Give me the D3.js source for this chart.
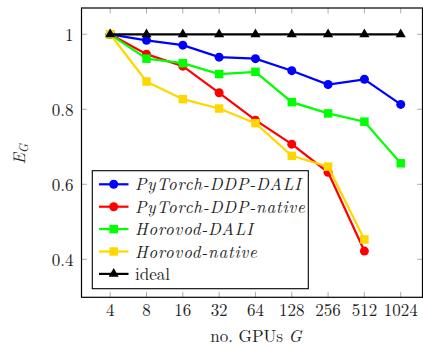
<!DOCTYPE html>
<html>
<head>
<meta charset="utf-8">
<script src="https://cdn.jsdelivr.net/npm/d3@7"></script>
<style>
  body { margin: 0; background: #fff; }
</style>
</head>
<body>
<svg id="chart" width="423" height="347"></svg>
<script>
const gpus = [4, 8, 16, 32, 64, 128, 256, 512, 1024]
const yTicks = [0.4, 0.6, 0.8, 1]

const ddpDali = [1, 0.984, 0.971, 0.939, 0.935, 0.903, 0.866, 0.880, 0.813]
const ddpNative = [1, 0.947, 0.915, 0.844, 0.771, 0.707, 0.632, 0.422]
const horovodDali = [1, 0.935, 0.923, 0.894, 0.900, 0.819, 0.789, 0.767, 0.656]
const horovodNative = [1, 0.874, 0.827, 0.802, 0.763, 0.676, 0.647, 0.453]
const ideal = [1, 1, 1, 1, 1, 1, 1, 1, 1]

const series = [
  { name: 'PyTorch-DDP-DALI', values: ddpDali, color: '#0000ff', marker: 'circle', italic: true },
  { name: 'PyTorch-DDP-native', values: ddpNative, color: '#ff0000', marker: 'circle', italic: true },
  { name: 'Horovod-DALI', values: horovodDali, color: '#00ff00', marker: 'square', italic: true },
  { name: 'Horovod-native', values: horovodNative, color: '#ffd700', marker: 'square', italic: true },
  { name: 'ideal', values: ideal, color: '#000000', marker: 'triangle', italic: false }
]

const box = { left: 81.5, right: 422.5, top: 8, bottom: 297.3 }
const fontSize = 17
const font = "'Latin Modern Roman', 'Liberation Serif', serif"

const svg = d3.select('#chart')

// log2 x scale, pixel positions taken from the axis frame
const x = d3.scaleLog().base(2)
  .domain([Math.pow(2, 1.21), Math.pow(2, 10.6)])
  .range([box.left, box.right])
const y = d3.scaleLinear()
  .domain([0.2987, 1.0701])
  .range([box.bottom, box.top])

// ticks (inward, mirrored)
const tickLen = 5.5
const ticks = svg.append('g').attr('stroke', '#999').attr('stroke-width', 0.8)
gpus.forEach(g => {
  ticks.append('line').attr('x1', x(g)).attr('x2', x(g)).attr('y1', box.bottom).attr('y2', box.bottom - tickLen)
  ticks.append('line').attr('x1', x(g)).attr('x2', x(g)).attr('y1', box.top).attr('y2', box.top + tickLen)
})
yTicks.forEach(v => {
  ticks.append('line').attr('x1', box.left).attr('x2', box.left + tickLen).attr('y1', y(v)).attr('y2', y(v))
  ticks.append('line').attr('x1', box.right).attr('x2', box.right - tickLen).attr('y1', y(v)).attr('y2', y(v))
})

// tick labels
svg.append('g').selectAll('text').data(gpus).enter().append('text')
  .attr('x', d => x(d)).attr('y', 316)
  .attr('text-anchor', 'middle').attr('font-family', font).attr('font-size', fontSize).attr('fill', '#222')
  .text(d => d)
svg.append('g').selectAll('text').data(yTicks).enter().append('text')
  .attr('x', box.left - 8).attr('y', d => y(d) + 6.5)
  .attr('text-anchor', 'end').attr('font-family', font).attr('font-size', fontSize).attr('fill', '#222')
  .text(d => d)

// axis labels
svg.append('text')
  .attr('x', 256).attr('y', 342)
  .attr('text-anchor', 'middle').attr('font-family', font).attr('font-size', fontSize).attr('fill', '#222')
  .html('no. GPUs <tspan font-style="italic">G</tspan>')
svg.append('text')
  .attr('transform', 'translate(25,154) rotate(-90)')
  .attr('text-anchor', 'middle').attr('font-family', font).attr('font-size', fontSize).attr('fill', '#222')
  .html('<tspan font-style="italic">E</tspan><tspan font-style="italic" font-size="12" dy="3">G</tspan>')

function drawMarker(sel, type, color, size) {
  if (type === 'circle') {
    sel.append('circle').attr('r', size / 2).attr('fill', color)
  } else if (type === 'square') {
    sel.append('rect').attr('x', -size / 2).attr('y', -size / 2)
      .attr('width', size).attr('height', size).attr('fill', color)
  } else {
    sel.append('path').attr('d', d3.symbol().type(d3.symbolTriangle).size(size * size * 0.55)()).attr('fill', color)
  }
}

const line = d3.line()
  .x((d, i) => x(gpus[i]))
  .y(d => y(d))

series.forEach(s => {
  const g = svg.append('g')
  g.append('path').attr('d', line(s.values))
    .attr('fill', 'none').attr('stroke', s.color).attr('stroke-width', 2.2)
  s.values.forEach((v, i) => {
    const m = g.append('g').attr('transform', `translate(${x(gpus[i])},${y(v)})`)
    drawMarker(m, s.marker, s.color, s.marker === 'square' ? 8.5 : 9)
  })
})

// frame
svg.append('rect')
  .attr('x', box.left).attr('y', box.top)
  .attr('width', box.right - box.left).attr('height', box.bottom - box.top)
  .attr('fill', 'none').attr('stroke', '#000').attr('stroke-width', 1.2)

// legend
const legend = svg.append('g')
legend.append('rect')
  .attr('x', 92.3).attr('y', 170.7).attr('width', 216).attr('height', 118)
  .attr('fill', '#fff').attr('stroke', '#000').attr('stroke-width', 1.1)
series.forEach((s, i) => {
  const ly = 184.3 + i * 22.4
  const row = legend.append('g')
  row.append('line').attr('x1', 99).attr('x2', 128.5).attr('y1', ly).attr('y2', ly)
    .attr('stroke', s.color).attr('stroke-width', 2.2)
  const m = row.append('g').attr('transform', `translate(113.7,${ly})`)
  drawMarker(m, s.marker, s.color, s.marker === 'square' ? 8.5 : 9)
  // math italic in the original is a bit looser than text italic
  row.append('text').attr('x', 135).attr('y', ly + 6)
    .attr('font-family', font).attr('font-size', fontSize)
    .attr('font-style', s.italic ? 'italic' : 'normal')
    .attr('letter-spacing', s.italic ? 0.8 : 0)
    .attr('fill', '#222')
    .text(s.name)
})
</script>
</body>
</html>
